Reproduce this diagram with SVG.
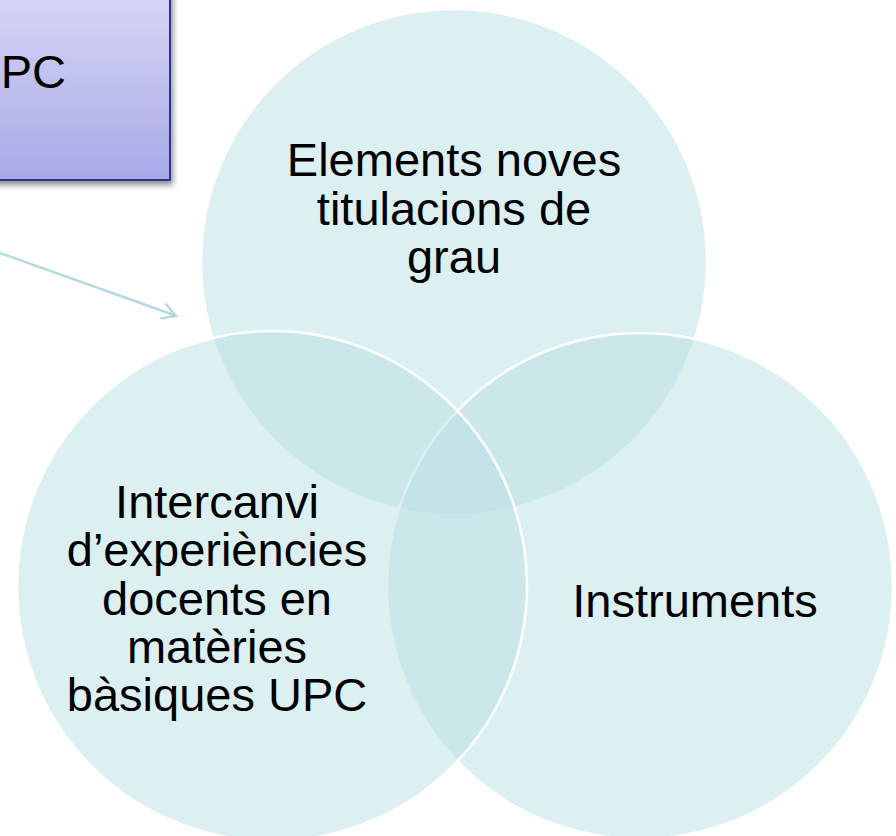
<svg xmlns="http://www.w3.org/2000/svg" width="896" height="836" viewBox="0 0 896 836">
  <defs>
    <linearGradient id="boxGrad" x1="0" y1="0" x2="0" y2="1">
      <stop offset="0" stop-color="#dadaf6"/>
      <stop offset="1" stop-color="#a8a8e8"/>
    </linearGradient>
    <filter id="shadow" x="-10%" y="-10%" width="130%" height="130%">
      <feGaussianBlur in="SourceAlpha" stdDeviation="3"/>
      <feOffset dx="2" dy="4" result="b"/>
      <feComponentTransfer><feFuncA type="linear" slope="0.45"/></feComponentTransfer>
      <feMerge><feMergeNode/><feMergeNode in="SourceGraphic"/></feMerge>
    </filter>
    <marker id="arrow" viewBox="0 0 20 20" refX="17" refY="10" markerWidth="20" markerHeight="20" markerUnits="userSpaceOnUse" orient="auto">
      <path d="M3,2 L17,10 L3,18" fill="none" stroke="#b0dce0" stroke-width="2.5"/>
    </marker>
  </defs>
  <style>
    .venn { fill: #b9dfe3; fill-opacity: 0.5; stroke: #ffffff; stroke-width: 2.5; }
    .lbl { font-family: "Liberation Sans", Arial, sans-serif; font-size: 47px; fill: #000000; text-anchor: middle; }
  </style>
  <rect x="0" y="0" width="896" height="836" fill="#ffffff"/>

  <g id="box">
    <rect x="-20" y="-20" width="190" height="200" fill="url(#boxGrad)" stroke="#2e3192" stroke-width="2" filter="url(#shadow)"/>
    <text x="66" y="88" class="lbl" style="text-anchor:end">PC</text>
  </g>

  <g id="connectors">
    <line x1="-10" y1="249.4" x2="176" y2="315.8" stroke="#b0dce0" stroke-width="2.5" marker-end="url(#arrow)"/>
  </g>

  <g id="circle-top">
    <circle class="venn" cx="454" cy="262" r="253"/>
  </g>
  <g id="circle-right">
    <circle class="venn" cx="640" cy="586" r="253"/>
  </g>
  <g id="circle-left">
    <circle class="venn" cx="272" cy="586" r="255"/>
  </g>

  <g id="label-top">
    <text class="lbl" x="454" y="176">Elements noves</text>
    <text class="lbl" x="454" y="224.5">titulacions de</text>
    <text class="lbl" x="454" y="273">grau</text>
  </g>
  <g id="label-right">
    <text class="lbl" x="695" y="617">Instruments</text>
  </g>
  <g id="label-left">
    <text class="lbl" x="217" y="518">Intercanvi</text>
    <text class="lbl" x="217" y="566">d’experiències</text>
    <text class="lbl" x="217" y="614.5">docents en</text>
    <text class="lbl" x="217" y="663">matèries</text>
    <text class="lbl" x="217" y="711">bàsiques UPC</text>
  </g>
</svg>
